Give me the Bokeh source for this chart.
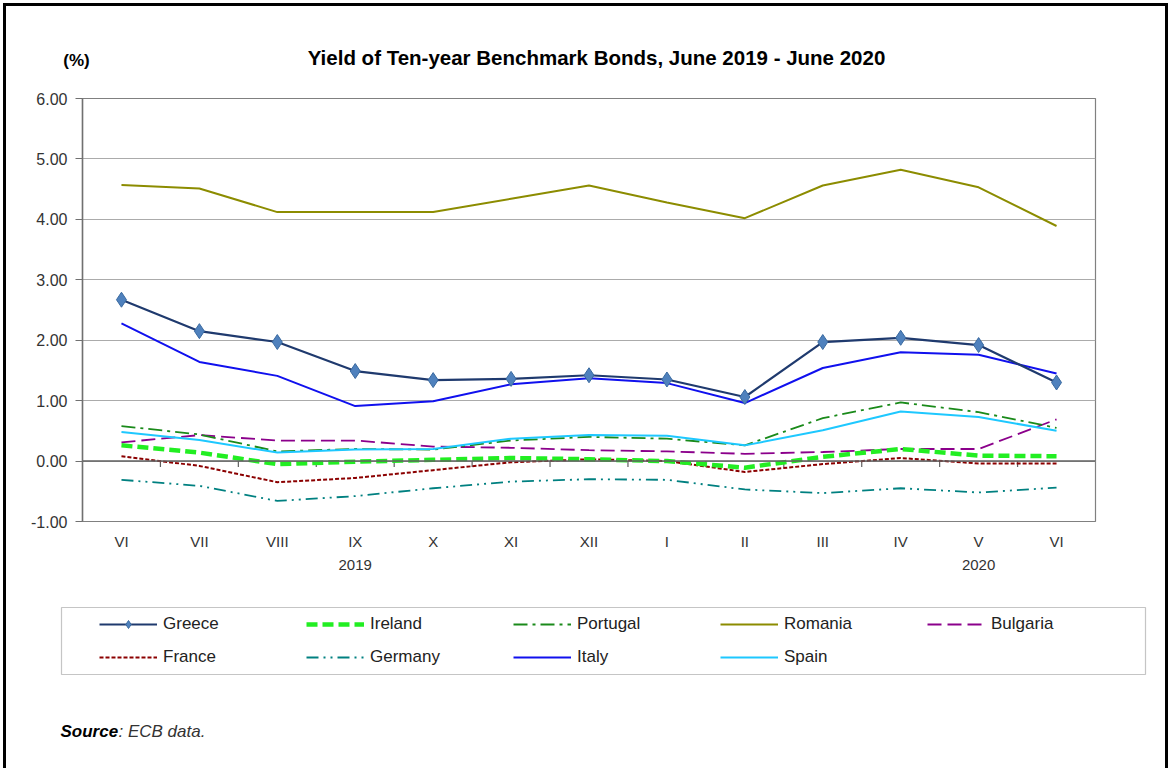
from bokeh.plotting import figure
from bokeh.layouts import column
from bokeh.models import (LinearAxis, FixedTicker, PrintfTickFormatter, Legend, LegendItem,
                          Label, BoxAnnotation, Span, Grid, Range1d)
from bokeh.embed import file_html
from bokeh.resources import INLINE

months = ["VI", "VII", "VIII", "IX", "X", "XI", "XII", "I", "II", "III", "IV", "V", "VI"]
years = ["2019", "2020"]
year_month_index = [3, 11]
y_ticks = [-1, 0, 1, 2, 3, 4, 5, 6]

greece = [2.67, 2.15, 1.97, 1.49, 1.34, 1.36, 1.42, 1.35, 1.06, 1.97, 2.04, 1.92, 1.30]
ireland = [0.26, 0.14, -0.05, -0.01, 0.02, 0.05, 0.03, 0.00, -0.11, 0.07, 0.20, 0.09, 0.08]
portugal = [0.58, 0.44, 0.16, 0.20, 0.19, 0.34, 0.40, 0.37, 0.26, 0.71, 0.97, 0.81, 0.55]
romania = [4.57, 4.51, 4.12, 4.12, 4.12, 4.34, 4.56, 4.28, 4.02, 4.56, 4.82, 4.53, 3.89]
bulgaria = [0.31, 0.43, 0.34, 0.34, 0.24, 0.22, 0.18, 0.16, 0.12, 0.15, 0.20, 0.20, 0.69]
france = [0.08, -0.08, -0.35, -0.28, -0.15, -0.02, 0.03, 0.00, -0.18, -0.05, 0.05, -0.04, -0.04]
germany = [-0.31, -0.41, -0.66, -0.58, -0.45, -0.34, -0.30, -0.31, -0.47, -0.53, -0.45, -0.52, -0.44]
italy = [2.28, 1.64, 1.41, 0.91, 0.99, 1.27, 1.37, 1.29, 0.96, 1.54, 1.80, 1.76, 1.45]
spain = [0.48, 0.35, 0.14, 0.19, 0.20, 0.37, 0.43, 0.42, 0.26, 0.51, 0.82, 0.73, 0.50]

FONT = "Liberation Sans"
W = 1171
n = len(months)
xs = [i + 0.5 for i in range(n)]

STYLES = {
    "Greece": dict(line_color="#1f3a6e", line_width=2.2),
    "Ireland": dict(line_color="#22ee22", line_width=4.5, line_dash="11 5"),
    "Portugal": dict(line_color="#1a8a1a", line_width=1.8, line_dash="14 5 3 5"),
    "Romania": dict(line_color="#8c8c00", line_width=2),
    "Bulgaria": dict(line_color="#8b008b", line_width=1.8, line_dash="14 6"),
    "France": dict(line_color="#8b0000", line_width=2, line_dash="4 2"),
    "Germany": dict(line_color="#008080", line_width=1.8, line_dash="12 5 2 5 2 5"),
    "Italy": dict(line_color="#1010ee", line_width=2),
    "Spain": dict(line_color="#1ec8ff", line_width=2),
}
SERIES = {"Greece": greece, "Ireland": ireland, "Portugal": portugal, "Romania": romania,
          "Bulgaria": bulgaria, "France": france, "Germany": germany, "Italy": italy,
          "Spain": spain}
DRAW_ORDER = ["Romania", "Germany", "France", "Bulgaria", "Portugal", "Spain", "Ireland",
              "Italy", "Greece"]
LEGEND_ORDER = ["Greece", "Ireland", "Portugal", "Romania", "Bulgaria", "France", "Germany",
                "Italy", "Spain"]
MARKER = dict(marker="diamond", size=15, fill_color="#4f81bd", line_color="#3a6aa0", line_width=1)


def blank(h):
    f = figure(frame_width=W, frame_height=h, min_border=0, x_axis_type=None, y_axis_type=None,
               x_range=Range1d(0, 1), y_range=Range1d(0, 1), output_backend="svg",
               toolbar_location=None, frame_align=False)
    f.outline_line_color = None
    f.border_fill_alpha = 0
    f.background_fill_alpha = 0
    return f


# ---------- header ----------
hd = blank(90)
hd.add_layout(Label(x=596, y=57, x_units="canvas", y_units="canvas",
                    text="Yield of Ten-year Benchmark Bonds, June 2019 - June 2020",
                    text_align="center", text_baseline="middle", text_font=FONT,
                    text_font_style="bold", text_font_size="20.5px", text_color="black"))
hd.add_layout(Label(x=76, y=60, x_units="canvas", y_units="canvas", text="(%)",
                    text_align="center", text_baseline="middle", text_font=FONT,
                    text_font_style="bold", text_font_size="17px", text_color="black"))

# ---------- main chart ----------
p = figure(frame_width=1013, frame_height=423, min_border_left=82, min_border_right=W - 82 - 1013,
           min_border_top=8, min_border_bottom=69, x_axis_type=None, y_axis_type=None,
           x_range=Range1d(0, n), y_range=Range1d(min(y_ticks), max(y_ticks)),
           output_backend="svg", toolbar_location=None, frame_align=False)
p.outline_line_color = "#808080"
p.outline_line_width = 1.2
p.background_fill_color = "white"
p.border_fill_alpha = 0

yaxis = LinearAxis(ticker=FixedTicker(ticks=y_ticks), formatter=PrintfTickFormatter(format="%.2f"))
yaxis.axis_line_color = "#707070"
yaxis.axis_line_width = 1.5
yaxis.major_tick_line_color = "#707070"
yaxis.major_tick_out = 7
yaxis.major_tick_in = 0
yaxis.minor_tick_line_color = None
yaxis.major_label_text_font = FONT
yaxis.major_label_text_font_size = "16px"
yaxis.major_label_text_color = "#333333"
yaxis.major_label_standoff = 8
p.add_layout(yaxis, "left")
p.add_layout(Grid(dimension=1, ticker=FixedTicker(ticks=y_ticks), grid_line_color="#ababab",
                  grid_line_width=1.2))

xaxis = LinearAxis(ticker=FixedTicker(ticks=xs),
                   major_label_overrides={x: m for x, m in zip(xs, months)})
xaxis.axis_line_color = None
xaxis.major_tick_line_color = None
xaxis.minor_tick_line_color = None
xaxis.major_label_text_font = FONT
xaxis.major_label_text_font_size = "15px"
xaxis.major_label_text_color = "#333333"
xaxis.major_label_standoff = 5
p.add_layout(xaxis, "below")

yr_x = [xs[i] for i in year_month_index]
yraxis = LinearAxis(ticker=FixedTicker(ticks=yr_x),
                    major_label_overrides={x: y for x, y in zip(yr_x, years)})
yraxis.axis_line_color = None
yraxis.major_tick_line_color = None
yraxis.minor_tick_line_color = None
yraxis.major_label_text_font = FONT
yraxis.major_label_text_font_size = "15px"
yraxis.major_label_text_color = "#333333"
yraxis.major_label_standoff = 1
p.add_layout(yraxis, "below")

p.add_layout(Span(location=0, dimension="width", line_color="#606060", line_width=1.5))
bounds = list(range(1, n))
p.segment(x0=bounds, y0=[0] * len(bounds), x1=bounds, y1=[-0.1] * len(bounds),
          line_color="#606060", line_width=1.2)

for name in DRAW_ORDER:
    p.line(xs, SERIES[name], **STYLES[name])
p.scatter(xs, greece, **MARKER)

# ---------- footer: legend + source ----------
FH = 181
ft = blank(FH)
leg_r = {}
for name in LEGEND_ORDER:
    leg_r[name] = [ft.line(xs, SERIES[name], visible=False, **STYLES[name])]
leg_r["Greece"].append(ft.scatter(xs, greece, visible=False, **MARKER))
items = [LegendItem(label=name, renderers=leg_r[name]) for name in LEGEND_ORDER]
legend = Legend(items=items, ncols=5, orientation="horizontal", location=(99, FH - 77),
                padding=0, margin=0, spacing=13, glyph_width=58, glyph_height=20,
                label_standoff=6, label_width=130, border_line_color=None,
                background_fill_alpha=0, label_text_font=FONT, label_text_font_size="17px",
                label_text_color="#222222")
ft.add_layout(legend, "center")
ft.add_layout(BoxAnnotation(left=61, right=1145, top=17, bottom=84,
                            left_units="canvas", right_units="canvas",
                            top_units="canvas", bottom_units="canvas",
                            fill_alpha=0, line_color="#404040", line_width=1.2))
ft.add_layout(Label(x=60, y=141, x_units="canvas", y_units="canvas", text="Source",
                    text_align="left", text_baseline="middle", text_font=FONT,
                    text_font_style="bold italic", text_font_size="17px", text_color="black"))
ft.add_layout(Label(x=118, y=141, x_units="canvas", y_units="canvas", text=": ECB data.",
                    text_align="left", text_baseline="middle", text_font=FONT,
                    text_font_style="italic", text_font_size="17px", text_color="#333333"))

page = column(hd, p, ft, spacing=0,
              styles={"background-color": "white",
                      "box-shadow": "inset 0 0 0 3px white, inset 0 6px 0 0 black, "
                                    "inset 6px 0 0 0 black, inset -6px 0 0 0 black"})

open("out.html", "w").write(file_html(page, INLINE))
